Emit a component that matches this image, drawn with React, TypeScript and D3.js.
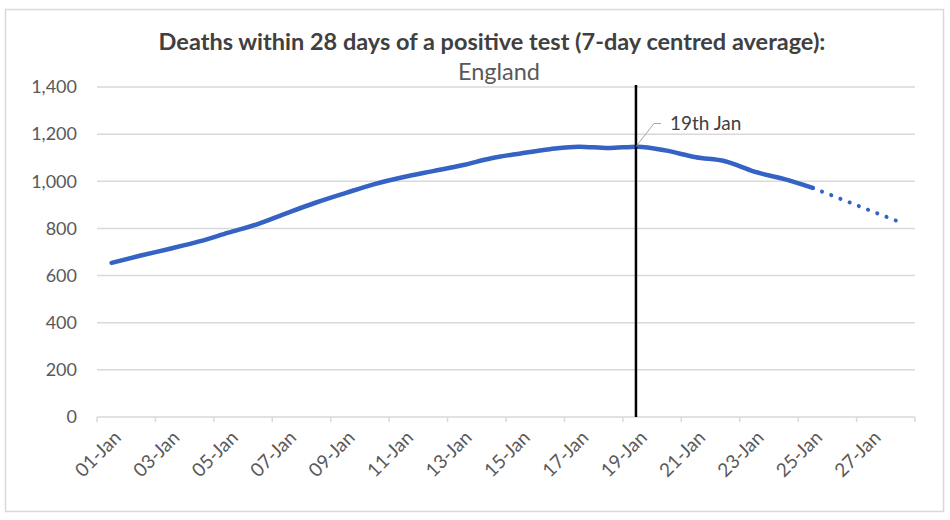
// Deaths within 28 days of a positive test - England, 7-day centred average
import React, { useEffect, useRef } from 'react';
import * as d3 from 'd3';

const dates = [
  '01-Jan', '02-Jan', '03-Jan', '04-Jan', '05-Jan', '06-Jan', '07-Jan',
  '08-Jan', '09-Jan', '10-Jan', '11-Jan', '12-Jan', '13-Jan', '14-Jan',
  '15-Jan', '16-Jan', '17-Jan', '18-Jan', '19-Jan', '20-Jan', '21-Jan',
  '22-Jan', '23-Jan', '24-Jan', '25-Jan', '26-Jan', '27-Jan', '28-Jan'
];

// solid: reported average up to 25-Jan
const actual = [
  654, 685, 714, 745, 782, 818, 865, 910, 950, 988, 1018, 1043, 1068, 1098,
  1118, 1136, 1147, 1141, 1147, 1130, 1102, 1085, 1041, 1010, 972
];

// dotted: projection 25-Jan to 28-Jan
const projectedDates = ['25-Jan', '26-Jan', '27-Jan', '28-Jan'];
const projected = [972, 923, 874, 826];

const yTicks = [0, 200, 400, 600, 800, 1000, 1200, 1400];
const markerDate = '19-Jan';
const markerLabel = '19th Jan';

const FONT = 'Lato, "Open Sans", sans-serif';

const App: React.FC = () => {
  const svgRef = useRef<SVGSVGElement>(null);

  useEffect(() => {
    if (!svgRef.current) return;
    const svg = d3.select(svgRef.current);
    svg.selectAll('*').remove();

    const width = 950;
    const height = 520;

    const x = d3.scaleBand<string>().domain(dates).range([97, 915]);
    const y = d3.scaleLinear().domain([0, 1400]).range([417, 87]);
    const cx = (d: string) => (x(d) as number) + x.bandwidth() / 2;

    // chart frame
    svg.append('rect')
      .attr('x', 5.5).attr('y', 9.5)
      .attr('width', width - 12).attr('height', height - 18)
      .attr('fill', '#fff')
      .attr('stroke', '#d9d9d9')
      .attr('stroke-width', 1.5);

    // title
    svg.append('text')
      .attr('x', 492).attr('y', 50)
      .attr('text-anchor', 'middle')
      .attr('font-family', FONT)
      .attr('font-weight', 'bold')
      .attr('font-size', 23.5)
      .attr('fill', '#404040')
      .text('Deaths within 28 days of a positive test (7-day centred average):');

    svg.append('text')
      .attr('x', 499).attr('y', 80)
      .attr('text-anchor', 'middle')
      .attr('font-family', FONT)
      .attr('font-size', 23.5)
      .attr('fill', '#595959')
      .text('England');

    // gridlines + y labels
    const grid = svg.append('g');
    yTicks.forEach(t => {
      if (t > 0) {
        grid.append('line')
          .attr('x1', 97).attr('x2', 915)
          .attr('y1', y(t)).attr('y2', y(t))
          .attr('stroke', '#d9d9d9')
          .attr('stroke-width', 1.5);
      }
      grid.append('text')
        .attr('x', 77).attr('y', y(t))
        .attr('dy', '0.35em')
        .attr('text-anchor', 'end')
        .attr('font-family', FONT)
        .attr('font-size', 18)
        .attr('fill', '#595959')
        .text(d3.format(',')(t));
    });

    // x axis line + tick marks every 2 days
    const axis = svg.append('g');
    axis.append('line')
      .attr('x1', 97).attr('x2', 915)
      .attr('y1', y(0)).attr('y2', y(0))
      .attr('stroke', '#d9d9d9')
      .attr('stroke-width', 1.5);

    const tickEdges = dates.filter((_, i) => i % 2 === 0).map(d => x(d) as number);
    tickEdges.push(915);
    tickEdges.forEach(tx => {
      axis.append('line')
        .attr('x1', tx).attr('x2', tx)
        .attr('y1', y(0)).attr('y2', y(0) + 5)
        .attr('stroke', '#d9d9d9')
        .attr('stroke-width', 1.5);
    });

    dates.filter((_, i) => i % 2 === 0).forEach(d => {
      axis.append('text')
        .attr('transform', `translate(${cx(d) + 6},${y(0) + 17}) rotate(-45)`)
        .attr('text-anchor', 'end')
        .attr('dy', '0.35em')
        .attr('font-family', FONT)
        .attr('font-size', 19)
        .attr('fill', '#595959')
        .text(d);
    });

    // solid series
    const line = d3.line<number>()
      .x((_, i) => cx(dates[i]))
      .y(d => y(d))
      .curve(d3.curveMonotoneX);

    svg.append('path')
      .attr('d', line(actual) as string)
      .attr('fill', 'none')
      .attr('stroke', '#3463c4')
      .attr('stroke-width', 4.5)
      .attr('stroke-linecap', 'round');

    // dotted projection
    const projLine = d3.line<number>()
      .x((_, i) => cx(projectedDates[i]))
      .y(d => y(d));

    svg.append('path')
      .attr('d', projLine(projected) as string)
      .attr('fill', 'none')
      .attr('stroke', '#3463c4')
      .attr('stroke-width', 4)
      .attr('stroke-linecap', 'round')
      .attr('stroke-dasharray', '0.1 9.8');

    // 19th Jan marker
    const mx = cx(markerDate) - 1.5;
    svg.append('line')
      .attr('x1', mx).attr('x2', mx)
      .attr('y1', y(1400) - 2).attr('y2', y(0))
      .attr('stroke', '#000')
      .attr('stroke-width', 2.5);

    const my = y(actual[dates.indexOf(markerDate)]);
    svg.append('path')
      .attr('d', `M${mx},${my} L${mx + 18},${y(1245)} L${mx + 25},${y(1245)}`)
      .attr('fill', 'none')
      .attr('stroke', '#a6a6a6')
      .attr('stroke-width', 1);

    svg.append('text')
      .attr('x', mx + 34).attr('y', y(1245))
      .attr('dy', '0.35em')
      .attr('font-family', FONT)
      .attr('font-size', 19)
      .attr('fill', '#404040')
      .text(markerLabel);
  }, []);

  return (
    <svg
      ref={svgRef}
      width={950}
      height={520}
      style={{ display: 'block', position: 'absolute', left: 0, top: 0 }}
    />
  );
};

export default App;
